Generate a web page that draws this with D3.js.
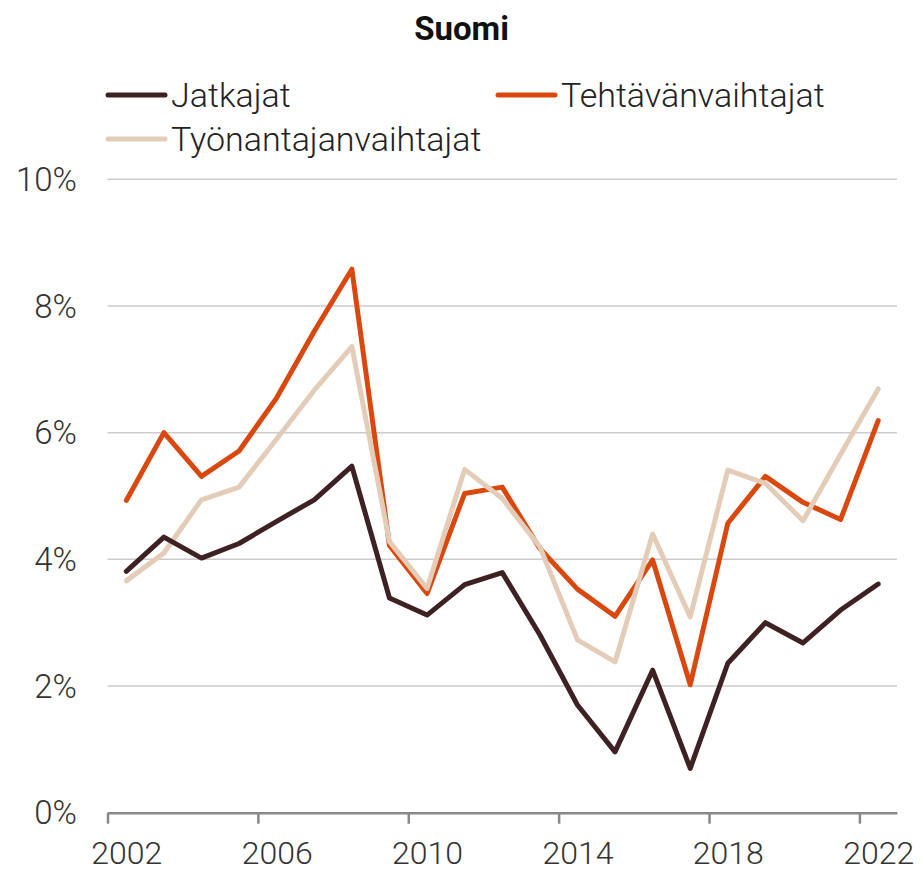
<!DOCTYPE html>
<html>
<head>
<meta charset="utf-8">
<script src="https://cdn.jsdelivr.net/npm/d3@7"></script>
<style>
  html, body { margin: 0; padding: 0; background: #fff; }
  svg text { font-family: Roboto, "Noto Sans", sans-serif; }
</style>
</head>
<body>
<svg id="chart" width="923" height="872"></svg>
<script>
const title = "Suomi";
const years = [2002,2003,2004,2005,2006,2007,2008,2009,2010,2011,2012,2013,2014,2015,2016,2017,2018,2019,2020,2021,2022];
const jatkajat = [3.81,4.35,4.02,4.25,4.60,4.94,5.47,3.39,3.12,3.60,3.79,2.81,1.70,0.96,2.25,0.70,2.36,3.00,2.68,3.20,3.61];
const tehtavanvaihtajat = [4.93,6.00,5.31,5.71,6.55,7.60,8.58,4.22,3.46,5.04,5.14,4.17,3.53,3.10,3.99,2.02,4.57,5.31,4.90,4.63,6.19];
const tyonantajanvaihtajat = [3.66,4.10,4.94,5.14,5.90,6.67,7.36,4.28,3.54,5.42,4.96,4.20,2.73,2.38,4.40,3.09,5.41,5.20,4.61,5.66,6.69];
const seriesNames = ["Jatkajat","Tehtävänvaihtajat","Työnantajanvaihtajat"];
const seriesColors = ["#3e2123","#d9480f","#e3cdb9"];
const yTicks = [0,2,4,6,8,10];
const xTicks = [2002,2006,2010,2014,2018,2022];

const svg = d3.select("#chart");
const x = d3.scaleLinear().domain([2002, 2023]).range([107.5, 897]);
const y = d3.scaleLinear().domain([0, 10]).range([812.7, 179.3]);
const half = x(2002.5) - x(2002);

// title
svg.append("text").attr("x", 461.5).attr("y", 40).attr("text-anchor", "middle")
  .attr("font-size", 33).attr("font-weight", 700).attr("fill", "#111").text(title);

// grid
svg.append("g").selectAll("line").data(yTicks.filter(d => d > 0)).join("line")
  .attr("x1", x(2002)).attr("x2", x(2023))
  .attr("y1", d => y(d)).attr("y2", d => y(d))
  .attr("stroke", "#cccccc").attr("stroke-width", 1.5);

// y labels
svg.append("g").selectAll("text").data(yTicks).join("text")
  .attr("x", 77).attr("y", d => y(d)).attr("dy", "0.35em")
  .attr("text-anchor", "end").attr("font-size", 33).attr("font-weight", 300)
  .attr("fill", "#333").text(d => d + "%");

// x axis
const xAxis = d3.axisBottom(x).tickValues(xTicks).tickFormat(d3.format("d")).tickSize(11).tickSizeOuter(0);
const gx = svg.append("g").attr("transform", `translate(0,${y(0)})`).call(xAxis);
gx.select(".domain").attr("stroke", "#888").attr("stroke-width", 2.5);
gx.selectAll(".tick line").attr("stroke", "#888").attr("stroke-width", 2.5);
gx.selectAll(".tick text").attr("x", half).attr("y", 0).attr("dy", 0)
  .attr("transform", "translate(0,51.5)")
  .attr("font-size", 32).attr("font-weight", 300).attr("fill", "#333")
  .attr("font-family", "Roboto, 'Noto Sans', sans-serif");

// lines
const allSeries = [jatkajat, tehtavanvaihtajat, tyonantajanvaihtajat];
const line = d3.line().x((d, i) => x(years[i] + 0.5)).y(d => y(d));
const order = [1, 2, 0];
svg.append("g").selectAll("path").data(order).join("path")
  .attr("d", k => line(allSeries[k]))
  .attr("fill", "none").attr("stroke", k => seriesColors[k])
  .attr("stroke-width", 5).attr("stroke-linejoin", "round").attr("stroke-linecap", "round");

// legend
const legendPos = [[108, 95], [498, 95], [108, 139]];
const lg = svg.append("g").selectAll("g").data(seriesNames).join("g")
  .attr("transform", (d, i) => `translate(${legendPos[i][0]},${legendPos[i][1]})`);
lg.append("line").attr("x1", 0).attr("x2", 57).attr("y1", 0).attr("y2", 0)
  .attr("stroke", (d, i) => seriesColors[i]).attr("stroke-width", 5).attr("stroke-linecap", "round");
lg.append("text").attr("x", 63).attr("y", 0).attr("dy", "0.35em")
  .attr("font-size", 34).attr("font-weight", 300).attr("fill", "#222").text(d => d);
</script>
</body>
</html>
